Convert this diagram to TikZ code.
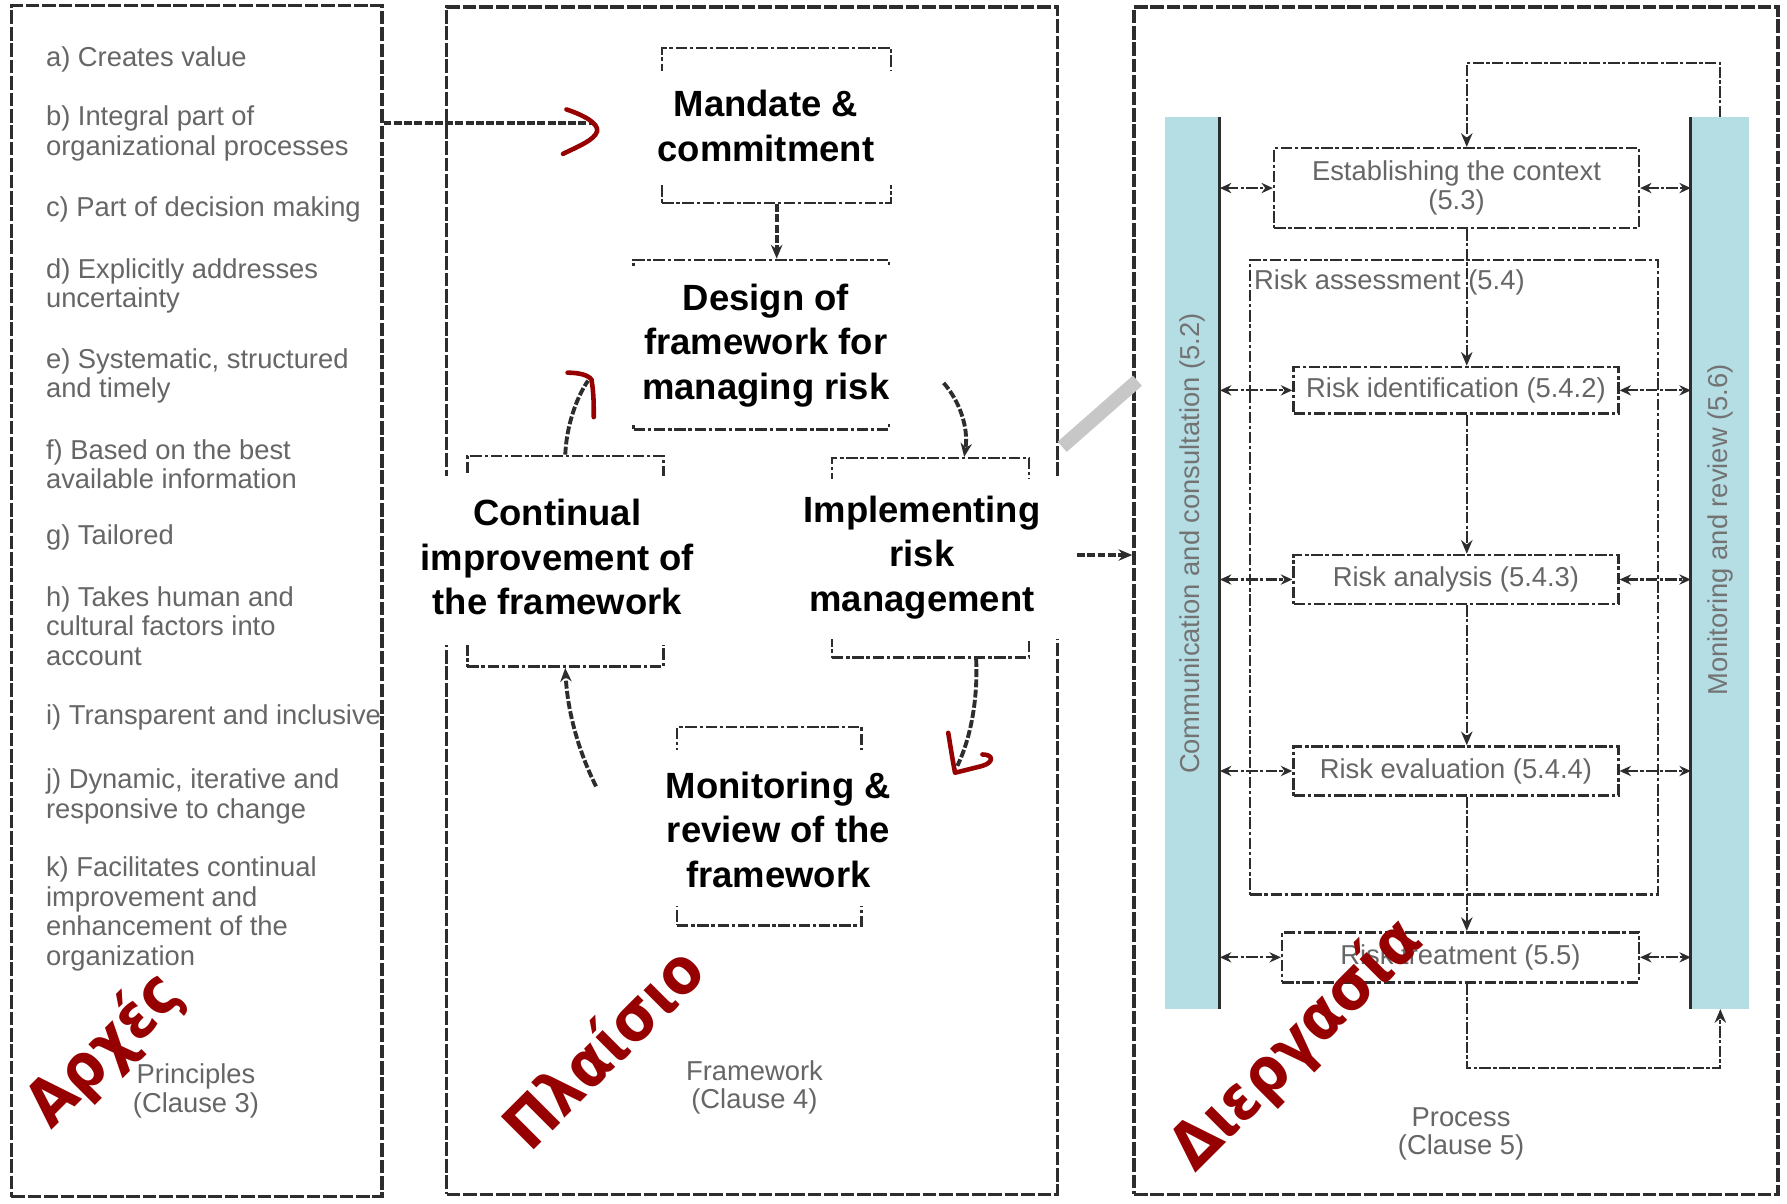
\documentclass[tikz,border=0pt]{standalone}
\usepackage{fontspec}
\setmainfont{Liberation Sans}
\newfontfamily\grfont{DejaVu Sans Condensed}
\usetikzlibrary{arrows.meta}
\definecolor{darkred}{RGB}{150,0,0}
\definecolor{barblue}{RGB}{180,221,228}
\definecolor{ink}{RGB}{45,45,45}
\tikzset{
 panel/.style={draw=ink, line width=1.5pt, dash pattern=on 6pt off 1.2pt, inner sep=0pt},
 dbox/.style={draw=ink, line width=1.1pt, dash pattern=on 5pt off 1.2pt on 1.5pt off 1.2pt, inner sep=0pt},
 conn/.style={draw=ink, line width=1.7pt, dash pattern=on 3.5pt off 1pt},
 flow/.style={draw=ink, line width=1pt, dash pattern=on 5pt off 1pt on 1.5pt off 1pt},
 tipS/.style={-{Stealth[length=6pt,width=5pt]}},
 both/.style={{Stealth[length=5pt,width=4.5pt]}-{Stealth[length=5pt,width=4.5pt]}},
 big/.style={font=\fontsize{16}{19.5}\selectfont\bfseries, align=center, inner sep=0pt},
 small/.style={font=\fontsize{12}{13}\selectfont, text=black!60, align=left, inner sep=0pt},
 smallc/.style={font=\fontsize{12}{12.5}\selectfont, text=black!60, align=center, inner sep=0pt},
 redtxt/.style={font=\grfont\bfseries\fontsize{28}{30}\selectfont, text=darkred, rotate=45, inner sep=0pt},
 redhead/.style={draw=darkred, line width=2pt, line cap=round, line join=round},
 bar/.style={fill=barblue, draw=none, inner sep=0pt},
}
\begin{document}
\begin{tikzpicture}[x=0.5pt,y={(0pt,-0.5pt)}]
\useasboundingbox (0,0) rectangle (1568,1056);
\fill[white] (0,0) rectangle (1568,1056);

% ---------- panels ----------
\node[panel, minimum width=162.5pt, minimum height=522.5pt] (pP) at (172.5,527.5) {};
\node[panel, minimum width=268pt, minimum height=521pt] (pF) at (660,527) {};
\node[panel, minimum width=282.5pt, minimum height=521pt] (pR) at (1277.5,527) {};

% ---------- principles (anchor = baseline of last line) ----------
\node[small, anchor=base west] (a1) at (40,58) {a) Creates value};
\node[small, anchor=base west] (a2) at (40,136) {b) Integral part of\\organizational processes};
\node[small, anchor=base west] (a3) at (40,190) {c) Part of decision making};
\node[small, anchor=base west] (a4) at (40,270) {d) Explicitly addresses\\uncertainty};
\node[small, anchor=base west] (a5) at (40,349) {e) Systematic, structured\\and timely};
\node[small, anchor=base west] (a6) at (40,429) {f) Based on the best\\available information};
\node[small, anchor=base west] (a7) at (40,478) {g) Tailored};
\node[small, anchor=base west] (a8) at (40,584) {h) Takes human and\\cultural factors into\\account};
\node[small, anchor=base west] (a9) at (40,636) {i) Transparent and inclusive};
\node[small, anchor=base west] (a10) at (40,718) {j) Dynamic, iterative and\\responsive to change};
\node[small, anchor=base west] (a11) at (40,847) {k) Facilitates continual\\improvement and\\enhancement of the\\organization};
\node[smallc] (pl) at (172,957) {Principles\\(Clause 3)};

% ---------- framework boxes ----------
\node[dbox, minimum width=100.5pt, minimum height=68pt] (mand) at (681.5,110) {};
\node[dbox, minimum width=112pt, minimum height=74.5pt] (design) at (668,302.5) {};
\node[dbox, minimum width=86pt, minimum height=92.5pt] (cont) at (496,492.5) {};
\node[dbox, minimum width=86.5pt, minimum height=87.5pt] (impl) at (816.5,489.5) {};
\node[dbox, minimum width=81pt, minimum height=87pt] (moni) at (675,725) {};

\coordinate (mIn) at (521,108);
\coordinate (dIn) at (516,334);
\coordinate (dOut) at (828,336);
\coordinate (monIn) at (840,672);
\coordinate (mOut) at (523,690);
\coordinate (iOut) at (945,487);

% connectors
\draw[conn] (pP.east |- mIn) -- (mIn);
\draw[conn, tipS] (mand.south) -- (mand.south |- design.north);
\draw[conn] (cont.north) .. controls (497,375) and (505,350) .. (dIn);
\draw[conn, tipS] (dOut) .. controls (842,352) and (850,375) .. ([xshift=14.75pt]impl.north);
\draw[conn] ([xshift=20pt]impl.south) .. controls (858,610) and (853,645) .. (monIn);
\draw[conn, tipS] (mOut) .. controls (508,660) and (498,625) .. (cont.south);
\draw[black!22, line width=6pt] (932,392) -- (998,334);
\draw[conn, tipS] (iOut) -- (iOut -| pR.west);

% white overlays behind the large texts
\fill[white] (542,62) rectangle (802,162);
\fill[white] (537,233) rectangle (812,372);
\fill[white] (355,418) rectangle (622,566);
\fill[white] (695,420) rectangle (945,561);
\fill[white] (572,658) rectangle (795,795);

\node[big] (tMand) at (672,110.5) {Mandate \&\\commitment};
\node[big] (tDes) at (672,303) {Design of\\framework for\\managing risk};
\node[big] (tCont) at (489,489) {Continual\\improvement of\\the framework};
\node[big] (tImpl) at (809,489) {Implementing\\risk\\management};
\node[big] (tMon) at (683,728) {Monitoring \&\\review of the\\framework};
\node[smallc] (fwl) at (662,954) {Framework\\(Clause 4)};

% red hand-drawn arrow heads
\draw[redhead] (497,96) .. controls (512,101) and (525,108) .. (524,115) .. controls (522,123) and (506,129) .. (494,135);
\draw[redhead] (498,327) .. controls (508,327) and (516,329) .. (519,333) .. controls (521,345) and (521,355) .. (521,366);
\draw[redhead] (832,643) .. controls (834,655) and (836,668) .. (838,678) -- (862,672) .. controls (872,669) and (872,662) .. (862,662);

% ---------- process ----------
\node[bar, minimum width=24pt, minimum height=391pt] (comm) at (1046,494) {};
\node[bar, minimum width=25.5pt, minimum height=391pt] (mon) at (1509.5,494) {};
\draw[ink, line width=1.3pt] (comm.north east) -- (comm.south east);
\draw[ink, line width=1.3pt] (mon.north west) -- (mon.south west);
\node[smallc, rotate=90, text=black!55] (tcomm) at (1046,477) {Communication and consultation (5.2)};
\node[smallc, rotate=90, text=black!55] (tmon) at (1510,465) {Monitoring and review (5.6)};

\node[dbox, minimum width=179pt, minimum height=278.5pt] (assess) at (1276,506.5) {};
\node[small, anchor=west] (tass) at (1100,248) {Risk assessment (5.4)};
\node[dbox, smallc, minimum width=160pt, minimum height=35pt] (est) at (1278,165) {Establishing the context\\(5.3)};
\node[dbox, smallc, minimum width=142.5pt, minimum height=20.5pt] (ident) at (1277.5,342.5) {Risk identification (5.4.2)};
\node[dbox, smallc, minimum width=142.5pt, minimum height=21.5pt] (anal) at (1277.5,508.5) {Risk analysis (5.4.3)};
\node[dbox, smallc, minimum width=142.5pt, minimum height=21.5pt] (evalu) at (1277.5,676.5) {Risk evaluation (5.4.4)};
\node[dbox, smallc, minimum width=156.5pt, minimum height=22pt] (treat) at (1281.5,840) {Risk treatment (5.5)};

\coordinate (sp) at (1287,0);
\coordinate (tr) at (1509.5,55);
\coordinate (bl) at (1509.5,937);
\draw[flow, tipS] (est.south -| sp) -- (ident.north -| sp);
\draw[flow, tipS] (ident.south -| sp) -- (anal.north -| sp);
\draw[flow, tipS] (anal.south -| sp) -- (evalu.north -| sp);
\draw[flow, tipS] (evalu.south -| sp) -- (treat.north -| sp);
\draw[flow, tipS] (mon.north) -- (tr) -| (est.north -| sp);
\draw[flow, tipS] (treat.south -| sp) |- (bl) -- (mon.south);
\foreach \b in {est,ident,anal,evalu,treat}{
  \draw[flow, both] (comm.east |- \b.west) -- (\b.west);
  \draw[flow, both] (\b.east) -- (mon.west |- \b.east);
}
\node[smallc] (prl) at (1282,995) {Process\\(Clause 5)};

% ---------- red titles ----------
\node[redtxt] (gr1) at (92,922) {Αρχές};
\node[redtxt] (gr2) at (528,918) {Πλαίσιο};
\node[redtxt] (gr3) at (1138,917) {Διεργασία};
\end{tikzpicture}
\end{document}
